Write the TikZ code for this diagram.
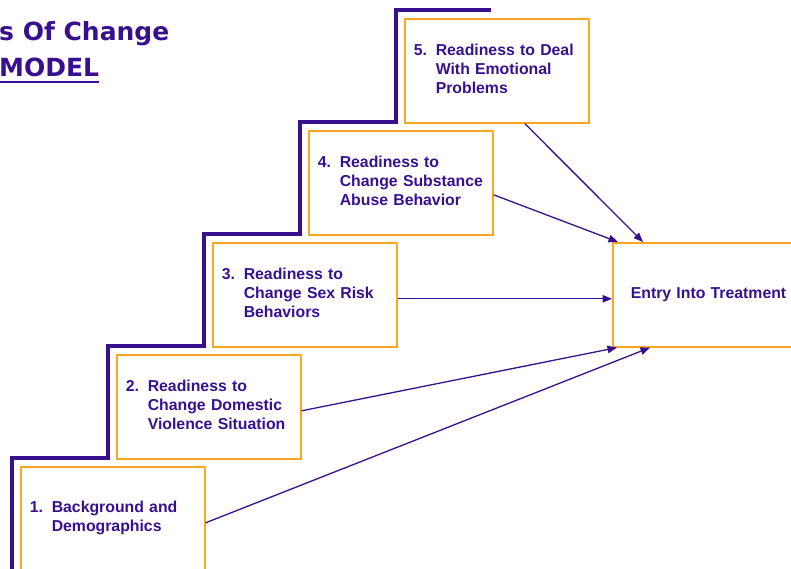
\documentclass[tikz,border=0pt]{standalone}
\usepackage{fontspec}
\setmainfont{Liberation Sans}
\newfontfamily\titlefont{DejaVu Sans}
\usetikzlibrary{arrows.meta}
\definecolor{stagepurple}{HTML}{36108E}
\definecolor{stageorange}{HTML}{FFA51F}
% hanging layout for the numbered box texts; every line is kept unbroken
\newcommand\stagenum[2]{\makebox[22pt][l]{#1}\mbox{#2}}
\newcommand\stageind[1]{\hspace*{22pt}\mbox{#1}}
\tikzset{
  stagebox/.style={draw=stageorange, line width=1.6pt, anchor=north west,
    minimum width=184pt, minimum height=104pt, inner xsep=9pt, inner ysep=0pt,
    text width=166pt, align=left, text=stagepurple,
    font=\bfseries\fontsize{15.8}{19}\selectfont,
    execute at end node={\rule[-4.2pt]{0pt}{0pt}}},
  entrybox/.style={draw=stageorange, line width=1.6pt, anchor=north west,
    minimum width=210pt, minimum height=104pt, inner xsep=18pt, inner ysep=0pt,
    text width=174pt, align=left, text=stagepurple,
    font=\bfseries\fontsize{15.8}{19}\selectfont},
  titletext/.style={anchor=base west, inner sep=0pt, text=stagepurple,
    font=\titlefont\bfseries\fontsize{25}{29}\selectfont},
  stairline/.style={draw=stagepurple, line width=4pt},
  connector/.style={draw=stagepurple, line width=1.3pt,
    -{Triangle[length=9.5pt,width=7.5pt]}}
}
\begin{document}
\begin{tikzpicture}[x=1pt,y=-1pt]
\useasboundingbox (0,0) rectangle (791,568);
\clip (0,0) rectangle (791,568);

% heading
\node[titletext] (t1) at (-1,40) {s Of Change};
\node[titletext] (t2) at (-1,76) {MODEL};
\draw[stagepurple, line width=2.2pt] ([yshift=-6pt]t2.base west) -- ([yshift=-6pt]t2.base east);

% staircase
\draw[stairline] (12,580) -- (12,458) -- (108,458) -- (108,346) -- (204,346)
  -- (204,234) -- (300,234) -- (300,122) -- (396,122) -- (396,10) -- (491,10);

% stages
\node[stagebox] (b1) at (20,466) {\stagenum{1.}{Background and}\\\stageind{Demographics}};
\node[stagebox] (b2) at (116,354) {\stagenum{2.}{Readiness to}\\\stageind{Change Domestic}\\\stageind{Violence Situation}};
\node[stagebox] (b3) at (212,242) {\stagenum{3.}{Readiness to}\\\stageind{Change Sex Risk}\\\stageind{Behaviors}};
\node[stagebox] (b4) at (308,130) {\stagenum{4.}{Readiness to}\\\stageind{Change Substance}\\\stageind{Abuse Behavior}};
\node[stagebox] (b5) at (404,18) {\stagenum{5.}{Readiness to Deal}\\\stageind{With Emotional}\\\stageind{Problems}};

\node[entrybox] (entry) at (612,242) {Entry Into Treatment};

% connectors into the outcome box
\draw[connector] ([xshift=28pt]b5.south) -- ([xshift=31pt]entry.north west);
\draw[connector] ([yshift=-12pt]b4.east) -- ([xshift=6pt]entry.north west);
\draw[connector] ([yshift=-4pt]b3.east) -- ([yshift=-4pt]entry.west);
\draw[connector] ([yshift=-4pt]b2.east) -- ([xshift=5pt]entry.south west);
\draw[connector] ([yshift=-4pt]b1.east) -- ([xshift=38pt]entry.south west);
\end{tikzpicture}
\end{document}
